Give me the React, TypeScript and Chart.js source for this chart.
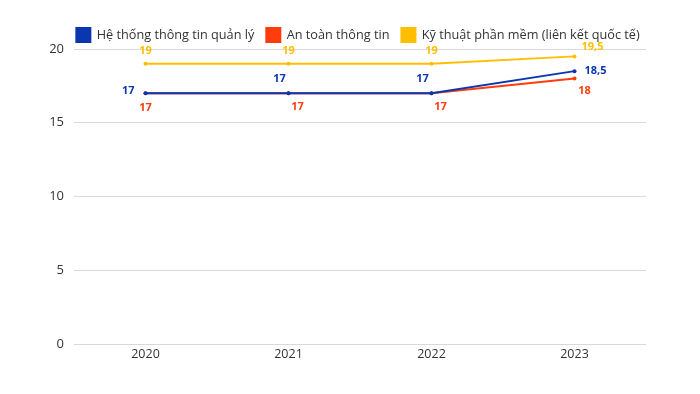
import React, { useEffect, useRef } from "react";
import { Chart, registerables } from "chart.js";

Chart.register(...registerables);

const categories = ["2020", "2021", "2022", "2023"];
const seriesNames = [
  "Hệ thống thông tin quản lý",
  "An toàn thông tin",
  "Kỹ thuật phần mềm (liên kết quốc tế)",
];
const htttql = [17, 17, 17, 18.5];
const attt = [17, 17, 17, 18];
const ktpm = [19, 19, 19, 19.5];
const colors = ["#0A36B0", "#FF3C0C", "#FFBF00"];
const yTicks = [0, 5, 10, 15, 20];

// label placement per point (style only)
const labelAnchors = [
  ["left", "topLeft", "topLeft", "right"],
  ["bottom", "bottomRight", "bottomRight", "bottomRight"],
  ["top", "top", "top", "topRight"],
];

const fmt = (v: number) => String(v).replace(".", ",");

const labelPlugin = {
  id: "pointLabels",
  afterDatasetsDraw(chart: any) {
    const ctx = chart.ctx;
    ctx.save();
    ctx.font = "bold 11px 'Open Sans', sans-serif";
    chart.data.datasets.forEach((ds: any, di: number) => {
      const meta = chart.getDatasetMeta(di);
      meta.data.forEach((pt: any, i: number) => {
        const a = labelAnchors[di][i];
        let x = pt.x;
        let y = pt.y;
        let align: CanvasTextAlign = "center";
        if (a === "left") { x -= 11; align = "right"; y -= 2; }
        if (a === "right") { x += 10; align = "left"; }
        if (a === "top") { y -= 13; }
        if (a === "topLeft") { y -= 14; x -= 9; }
        if (a === "bottom") { y += 15; }
        if (a === "bottomRight") { y += 14; x += 9; }
        if (a === "topRight") { y -= 10; x += 18; }
        if (di === 1 && i === 3) { x = pt.x + 10; y = pt.y + 12; }
        ctx.fillStyle = colors[di];
        ctx.textAlign = align;
        ctx.textBaseline = "middle";
        ctx.fillText(fmt(ds.data[i]), x, y);
      });
    });
    ctx.restore();
  },
};

const legendTrim = {
  id: "legendTrim",
  beforeInit(chart: any) {
    const legend = chart.legend;
    if (!legend) return;
    const fit = legend.fit;
    legend.fit = function () {
      fit.call(legend);
      legend.height -= 3;
    };
  },
};

export default function App() {
  const ref = useRef<HTMLCanvasElement>(null);
  useEffect(() => {
    document.body.style.margin = "0";
    const series = [htttql, attt, ktpm];
    const chart = new Chart(ref.current!, {
      type: "line",
      data: {
        labels: categories,
        datasets: series.map((d, i) => ({
          label: seriesNames[i],
          data: d,
          borderColor: colors[i],
          backgroundColor: colors[i],
          borderWidth: 2,
          pointRadius: 2,
          pointBackgroundColor: colors[i],
          pointBorderWidth: 0,
          tension: 0,
        })),
      },
      options: {
        animation: false,
        responsive: false,
        layout: { padding: { left: 40, right: 24, top: 16, bottom: 22 } },
        plugins: {
          legend: {
            position: "top",
            labels: {
              boxWidth: 14,
              boxHeight: 14,
              padding: 12,
              color: "#333",
              font: { family: "'Open Sans', sans-serif", size: 12.7 },
            },
          },
          tooltip: { enabled: false },
        },
        scales: {
          x: {
            offset: true,
            grid: { display: false, drawTicks: false },
            border: { display: false },
            ticks: { color: "#333", padding: 3, font: { family: "'Open Sans', sans-serif", size: 12.5 } },
            afterFit: (s: any) => { s.height = 28; },
          },
          y: {
            min: 0,
            max: 20,
            afterBuildTicks: (s: any) => { s.ticks = yTicks.map((v) => ({ value: v })); },
            grid: { color: "#d9d9d9", drawTicks: false },
            border: { display: false },
            ticks: { color: "#333", padding: 10, font: { family: "'Open Sans', sans-serif", size: 13 } },
            afterFit: (s: any) => { s.width = 34; },
          },
          yRight: {
            position: "right",
            display: true,
            min: 0,
            max: 20,
            grid: { display: false, drawTicks: false },
            border: { display: false },
            ticks: { display: false },
            afterFit: (s: any) => { s.width = 30; },
          },
        },
      },
      plugins: [legendTrim, labelPlugin],
    });
    return () => chart.destroy();
  }, []);
  return <canvas ref={ref} width={700} height={394} style={{ display: "block" }} />;
}
